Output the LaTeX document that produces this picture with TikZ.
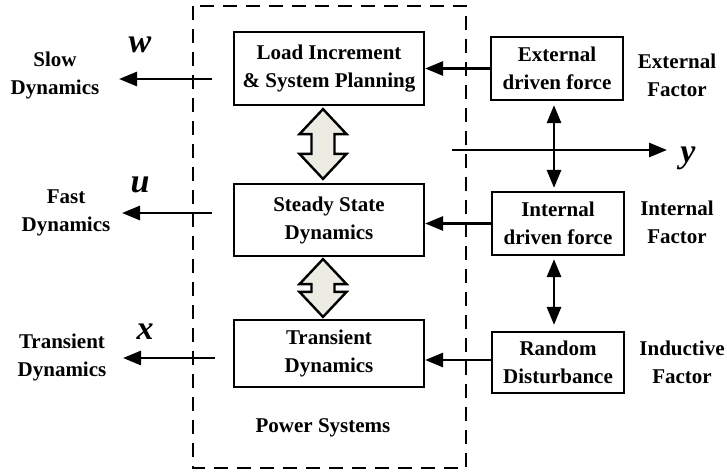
\documentclass[tikz,border=0pt]{standalone}
\usepackage{fontspec}
\setmainfont{Liberation Serif}
\usetikzlibrary{arrows.meta, calc, positioning}
\definecolor{arrowgrey}{RGB}{236,236,226}

% hollow double arrow from top tip #1 to bottom tip #2
\newcommand{\fatarrow}[2]{%
  \draw[fatline] (#1) -- ++(23.5,25) -- ++(-12,0) -- ($(#2)+(11.5,-25)$) -- ++(12,0)
    -- (#2) -- ++(-23.5,-25) -- ++(12,0) -- ($(#1)+(-11.5,25)$) -- ++(-12,0) -- cycle;}

\begin{document}
\begin{tikzpicture}[
	x=1pt, y=-1pt,
	texts/.style = {text=black, font=\fontsize{21}{28}\selectfont\bfseries, align=center},
	varname/.style = {text=black, font=\fontsize{34}{34}\selectfont\bfseries\itshape},
	block/.style = {texts, draw, line width=2.2pt, inner sep=0pt},
	flow/.style = {line width=2.8pt, -{Triangle[length=18pt, width=14pt]}},
	bothflow/.style = {line width=2.8pt, {Triangle[length=18pt, width=14pt]}-{Triangle[length=18pt, width=14pt]}},
	fatline/.style = {draw, line width=2.4pt, fill=arrowgrey, line join=miter},
	frameline/.style = {line width=2.2pt, dash pattern=on 14pt off 9pt}
]
	\useasboundingbox (0,0) rectangle (727,472);

	% power system frame
	\draw[frameline] (193,6) rectangle (466,468);
	\node[texts] (power) at (323,428) {Power Systems};

	% inner blocks
	\node[block, minimum width=190pt, minimum height=73pt] (load) at (329,68.5) {Load Increment\\\& System Planning};
	\node[block, minimum width=190pt, minimum height=72pt] (steady) at (329,220) {Steady State\\Dynamics};
	\node[block, minimum width=190pt, minimum height=67pt] (trans) at (329,353.5) {Transient\\Dynamics};

	% driving blocks
	\node[block, minimum width=132pt, minimum height=63pt] (ext) at (557,68.5) {External\\driven force};
	\node[block, minimum width=132pt, minimum height=63pt] (int) at (558,223.5) {Internal\\driven force};
	\node[block, minimum width=132pt, minimum height=61pt] (rand) at (558,362.5) {Random\\Disturbance};

	% factor labels
	\node[texts] (extf) at (677,75) {External\\Factor};
	\node[texts] (intf) at (677,222) {Internal\\Factor};
	\node[texts] (indf) at (682,362) {Inductive\\Factor};

	% dynamics labels
	\node[texts] (slow) at (55,75) {Slow\\Dynamics};
	\node[texts] (fast) at (66,213) {Fast\\Dynamics};
	\node[texts] (trdyn) at (62,357) {Transient\\Dynamics};
	\node[varname] (w) at (140,45) {w};
	\node[varname] (u) at (140,185) {u};
	\node[varname] (x) at (145,332) {x};
	\node[varname] (y) at (688,158) {y};

	% fat arrows between the blocks
	\coordinate (fat1top) at ($(load.south)+(-6,3)$);
	\coordinate (fat1bot) at ($(steady.north)+(-6,-4)$);
	\coordinate (fat2top) at ($(steady.south)+(-6,2)$);
	\coordinate (fat2bot) at ($(trans.north)+(-6,-2)$);
	\fatarrow{fat1top}{fat1bot}
	\fatarrow{fat2top}{fat2bot}

	% outputs
	\coordinate (wstart) at (212,79);
	\coordinate (wend) at (119,79);
	\coordinate (ustart) at (212,213);
	\coordinate (uend) at (122,213);
	\coordinate (xstart) at (215,358);
	\coordinate (xend) at (123,358);
	\draw[flow] (wstart) -- (wend);
	\draw[flow] (ustart) -- (uend);
	\draw[flow] (xstart) -- (xend);

	% inputs
	\draw[flow] (ext.west) -- (ext.west -| load.east);
	\draw[flow] (int.west) -- (int.west -| steady.east);
	\draw[flow] ([yshift=2.5]rand.west) -- ([yshift=2.5]rand.west -| trans.east);
	\draw[bothflow] ([xshift=-3,yshift=-4]ext.south) -- ([xshift=-4,yshift=3]int.north);
	\draw[bothflow] ([xshift=-4,yshift=-3]int.south) -- ([xshift=-4,yshift=6]rand.north);

	\coordinate (ystart) at (452,150);
	\coordinate (yend) at (667,150);
	\draw[flow] (ystart) -- (yend);
\end{tikzpicture}
\end{document}
